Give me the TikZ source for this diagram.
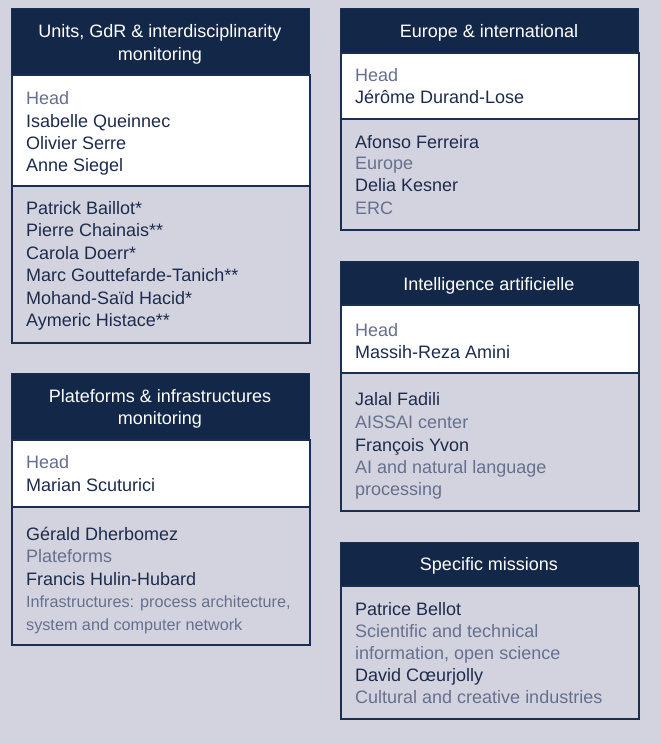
\documentclass[tikz,border=0pt]{standalone}
\usepackage{fontspec}
\setmainfont{Liberation Sans}
\definecolor{bgc}{HTML}{D3D3DF}
\definecolor{navy}{HTML}{132849}
\definecolor{bordc}{HTML}{1B2E52}
\definecolor{txtc}{HTML}{1D2C4D}
\definecolor{greyc}{HTML}{66708E}
\tikzset{
  headbox/.style={rectangle, fill=navy, draw=bordc, line width=1.2pt, anchor=north west, inner sep=0pt},
  whitebox/.style={rectangle, fill=white, draw=bordc, line width=1.5pt, anchor=north west, inner sep=0pt},
  greybox/.style={rectangle, fill=bgc, draw=bordc, line width=1.5pt, anchor=north west, inner sep=0pt},
  htxt/.style={text=white, font=\fontsize{18}{22}\selectfont, anchor=base, inner sep=0pt},
  pname/.style={text=txtc, font=\fontsize{18}{22}\selectfont, anchor=base west, inner sep=0pt},
  prole/.style={text=greyc, font=\fontsize{18}{22}\selectfont, anchor=base west, inner sep=0pt},
  prolesm/.style={text=greyc, font=\fontsize{16.2}{22}\selectfont, anchor=base west, inner sep=0pt}
}
\begin{document}
\begin{tikzpicture}[x=1pt,y=-1pt]
\useasboundingbox[fill=bgc] (0,0) rectangle (661,744);
% Card 1
\node[greybox, minimum width=298pt, minimum height=157pt] (g1) at (11,185) {};
\node[whitebox, minimum width=298pt, minimum height=111pt] (w1) at (11,74) {};
\node[headbox, minimum width=298pt, minimum height=66pt] (h1) at (11,8) {};
\node[htxt] (h1a) at (160,37.7) {Units, GdR \& interdisciplinarity};
\node[htxt] (h1b) at (160,60) {monitoring};
\node[prole] (c1a) at (26,104) {Head};
\node[pname] (c1b) at (26,127) {Isabelle Queinnec};
\node[pname] (c1c) at (26,149) {Olivier Serre};
\node[pname] (c1d) at (26,171) {Anne Siegel};
\node[pname] (c1e) at (26,214.5) {Patrick Baillot*};
\node[pname] (c1f) at (26,236.5) {Pierre Chainais**};
\node[pname] (c1g) at (26,259) {Carola Doerr*};
\node[pname] (c1h) at (26,281) {Marc Gouttefarde-Tanich**};
\node[pname] (c1i) at (26,304) {Mohand-Saïd Hacid*};
\node[pname] (c1j) at (26,326) {Aymeric Histace**};
% Card 2
\node[greybox, minimum width=298pt, minimum height=138pt] (g2) at (11,506) {};
\node[whitebox, minimum width=298pt, minimum height=67pt] (w2) at (11,439) {};
\node[headbox, minimum width=298pt, minimum height=66pt] (h2) at (11,373) {};
\node[htxt] (h2a) at (160,402) {Plateforms \& infrastructures};
\node[htxt] (h2b) at (160,424) {monitoring};
\node[prole] (c2a) at (26,468.7) {Head};
\node[pname] (c2b) at (26,491) {Marian Scuturici};
\node[pname] (c2c) at (26,540) {Gérald Dherbomez};
\node[prole] (c2d) at (26,562.7) {Plateforms};
\node[pname] (c2e) at (26,585.4) {Francis Hulin-Hubard};
\node[prolesm] (c2f) at (26,607.7) {Infrastructures: process architecture,};
\node[prolesm] (c2g) at (26,630) {system and computer network};
% Card 3
\node[greybox, minimum width=298pt, minimum height=111pt] (g3) at (340,118) {};
\node[whitebox, minimum width=298pt, minimum height=66pt] (w3) at (340,52) {};
\node[headbox, minimum width=298pt, minimum height=44pt] (h3) at (340,8) {};
\node[htxt] (h3a) at (489,37.7) {Europe \& international};
\node[prole] (c3a) at (355,81) {Head};
\node[pname] (c3b) at (355,103) {Jérôme Durand-Lose};
\node[pname] (c3c) at (355,148) {Afonso Ferreira};
\node[prole] (c3d) at (355,169.5) {Europe};
\node[pname] (c3e) at (355,191) {Delia Kesner};
\node[prole] (c3f) at (355,214) {ERC};
% Card 4
\node[greybox, minimum width=298pt, minimum height=138pt] (g4) at (340,372) {};
\node[whitebox, minimum width=298pt, minimum height=68pt] (w4) at (340,304) {};
\node[headbox, minimum width=298pt, minimum height=43pt] (h4) at (340,261) {};
\node[htxt] (h4a) at (489,290) {Intelligence artificielle};
\node[prole] (c4a) at (355,336) {Head};
\node[pname] (c4b) at (355,358.7) {Massih-Reza Amini};
\node[pname] (c4c) at (355,405.4) {Jalal Fadili};
\node[prole] (c4d) at (355,428.7) {AISSAI center};
\node[pname] (c4e) at (355,451) {François Yvon};
\node[prole] (c4f) at (355,473) {AI and natural language};
\node[prole] (c4g) at (355,495.5) {processing};
% Card 5
\node[greybox, minimum width=298pt, minimum height=133pt] (g5) at (340,585) {};
\node[headbox, minimum width=298pt, minimum height=43pt] (h5) at (340,542) {};
\node[htxt] (h5a) at (489,570) {Specific missions};
\node[pname] (c5a) at (355,615.4) {Patrice Bellot};
\node[prole] (c5b) at (355,637) {Scientific and technical};
\node[prole] (c5c) at (355,659.5) {information, open science};
\node[pname] (c5d) at (355,681) {David Cœurjolly};
\node[prole] (c5e) at (355,703.4) {Cultural and creative industries};
\end{tikzpicture}
\end{document}
